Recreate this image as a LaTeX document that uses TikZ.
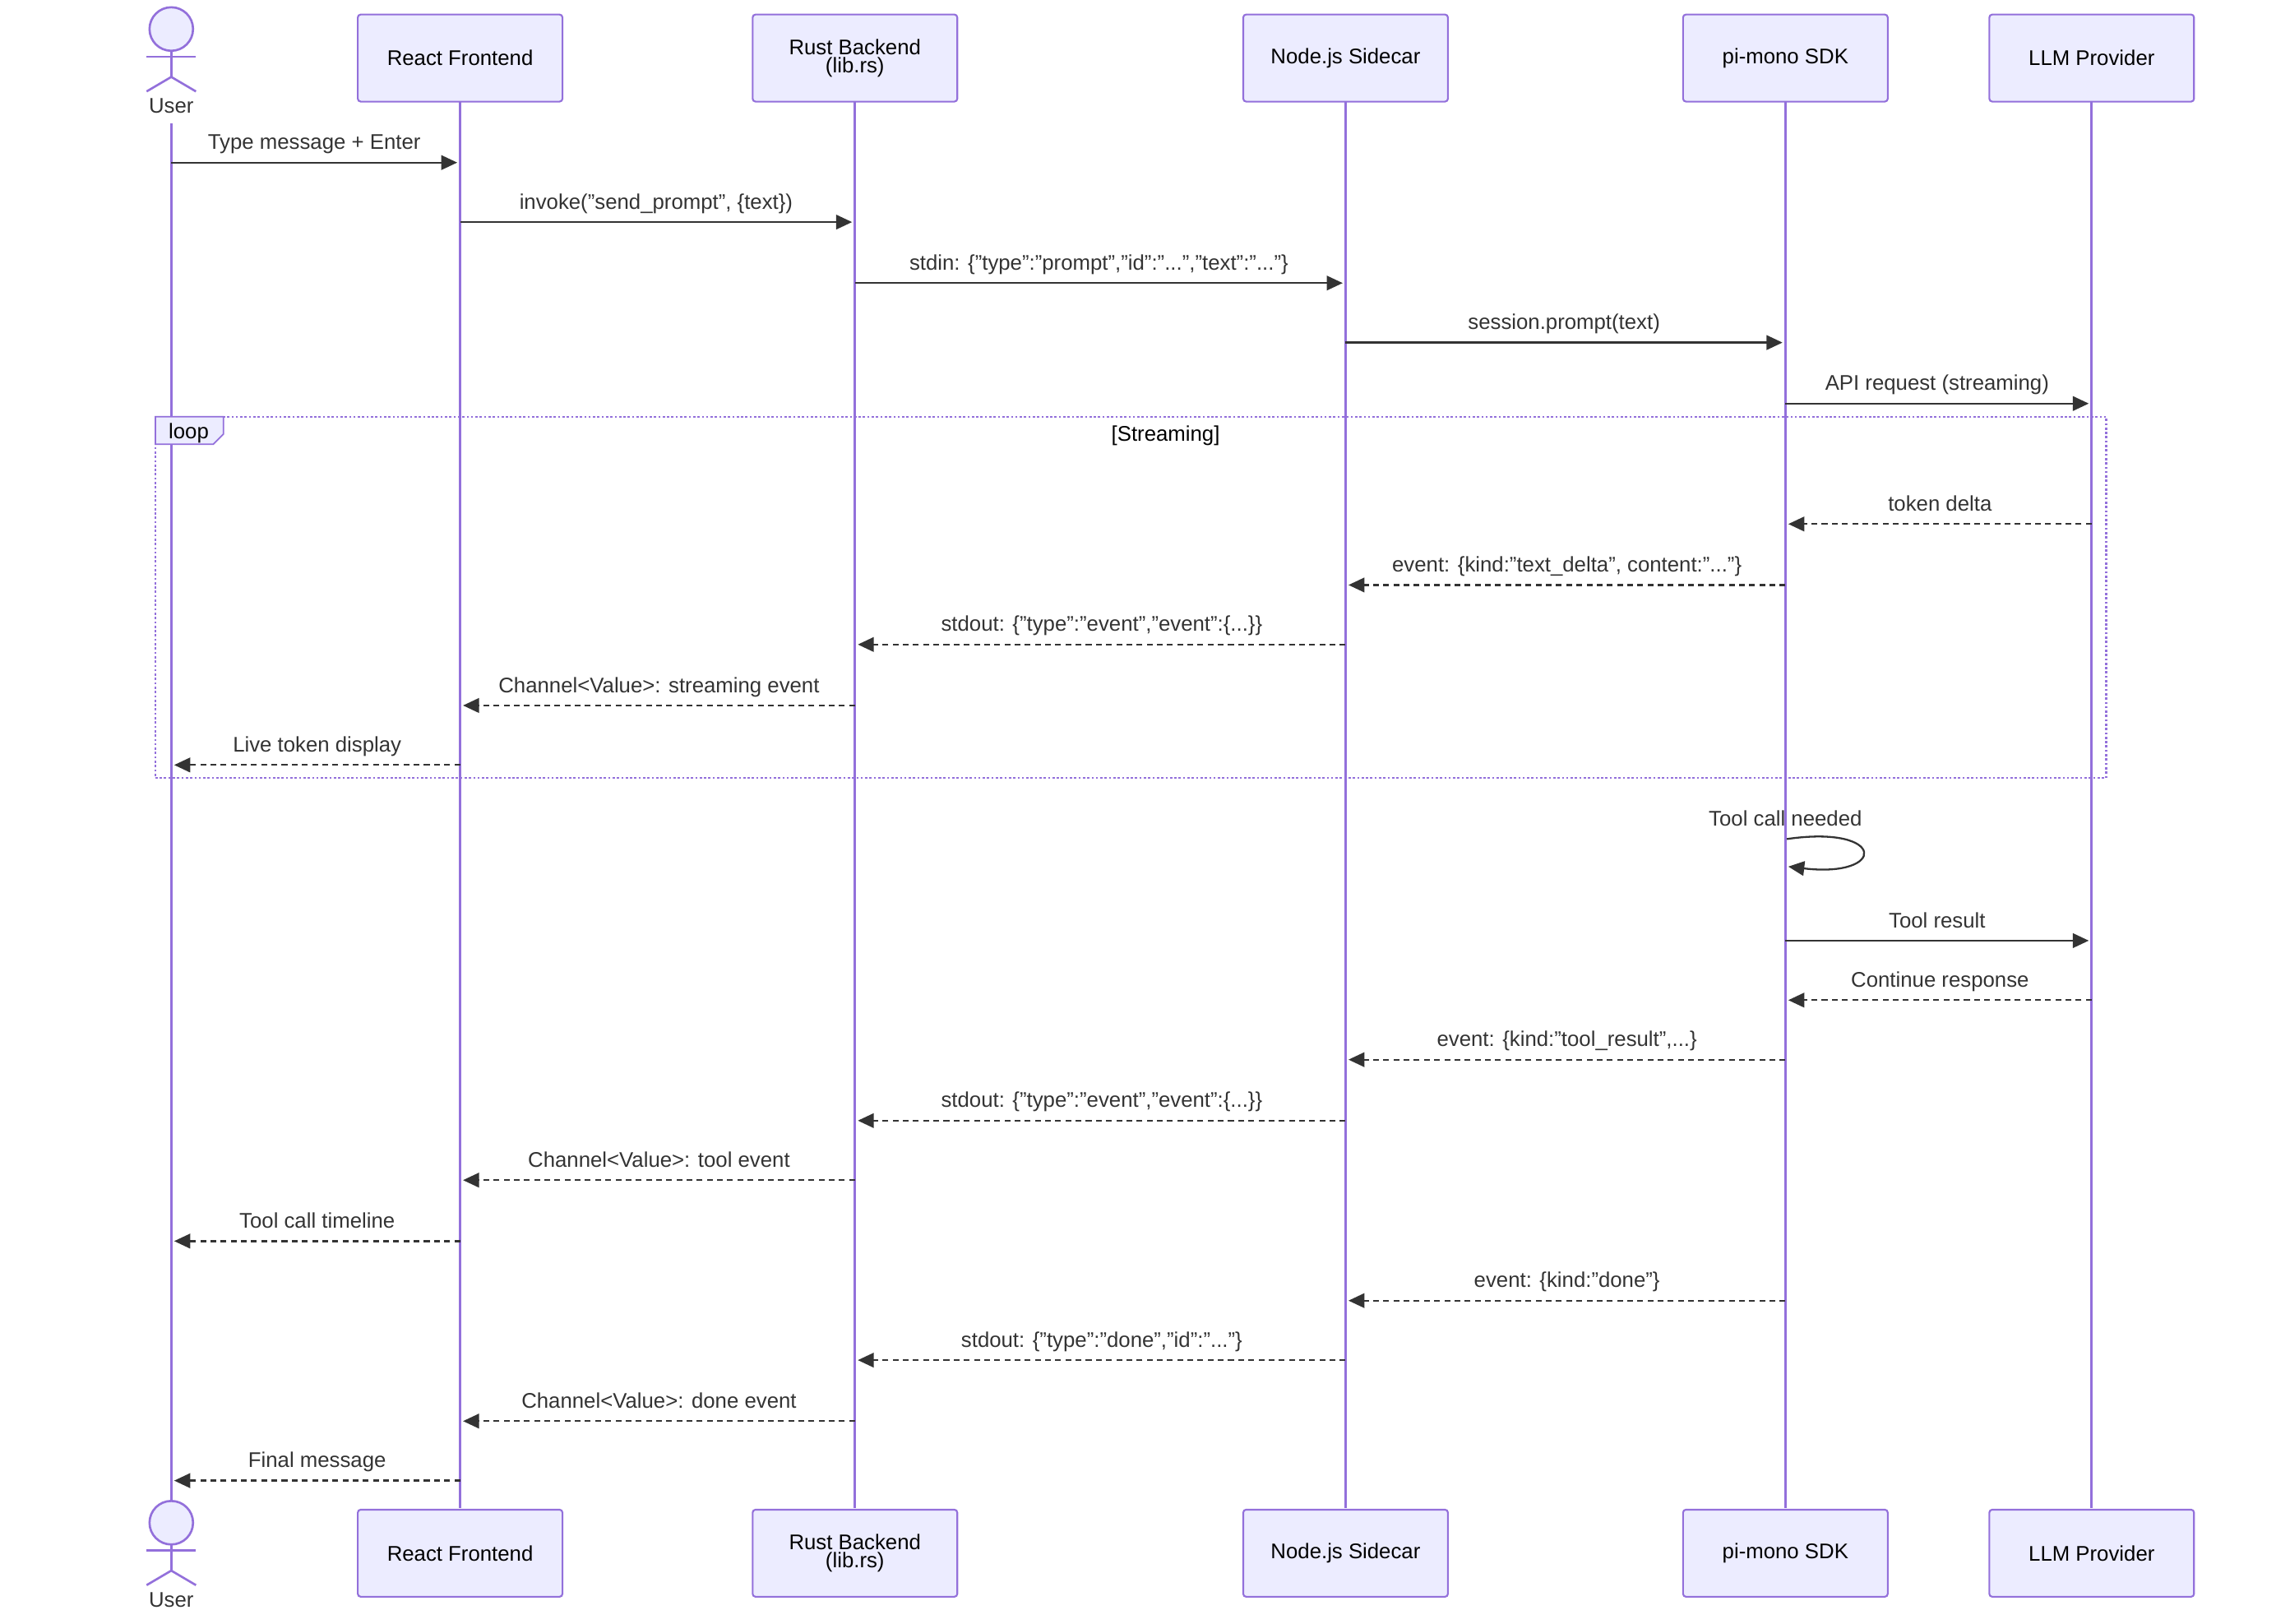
\documentclass[tikz,border=0pt]{standalone}
\usepackage{fontspec}
\setmainfont{Liberation Sans}
\usetikzlibrary{arrows.meta}
\definecolor{pur}{HTML}{9370DB}
\definecolor{fillc}{HTML}{ECECFF}
\definecolor{txt}{HTML}{333333}
\begin{document}
\begin{tikzpicture}[x=1pt,y=-1pt,
  box/.style={draw=pur,fill=fillc,line width=1.2pt,rounded corners=2pt,minimum width=141pt,minimum height=60pt,align=center,font=\fontsize{14.6}{14.6}\selectfont,inner sep=0pt},
  life/.style={draw=pur,line width=1.6pt},
  msg/.style={draw=txt,line width=1.3pt,-{Triangle[length=11pt,width=10pt]}},
  rmsg/.style={msg,dash pattern=on 4pt off 3pt},
  lab/.style={font=\fontsize{14.6}{14.6}\selectfont,text=txt,anchor=base,inner sep=0pt},
  act/.style={draw=pur,line width=1.5pt}]
\useasboundingbox (0,0) rectangle (1568,1118.5);
\foreach \n/\x in {U/118,R/317,B/589,N/927,P/1230,L/1441}{
  \coordinate (\n) at (\x,0);
}
\draw[life] (118,85) -- (118,1035);
\foreach \x in {317,589,927,1230,1441}{\draw[life] (\x,70) -- (\x,1039);}
\foreach \y [count=\i] in {40,1070}{
  \node[box] (r\i) at (317,\y) {React Frontend};
  \node[box] (b\i) at (589,\y) {Rust Backend\\[-2pt](lib.rs)};
  \node[box] (n\i) at (927,\y) {Node.js Sidecar};
  \node[box] (p\i) at (1230,\y) {pi-mono SDK};
  \node[box] (l\i) at (1441,\y) {LLM Provider};
}
\foreach \y in {20,1049}{
  \draw[act,fill=fillc] (118,\y) circle (15);
  \draw[act] (118,\y+15) -- (118,\y+33);
  \draw[act] (101,\y+19) -- (135,\y+19);
  \draw[act] (101,\y+43) -- (118,\y+33) -- (135,\y+43);
}
\node[lab] at (118,78) {User};
\node[lab] at (118,1107) {User};
\draw[pur,line width=1.2pt,dash pattern=on 1.5pt off 1.5pt] (107,287) rectangle (1451,536);
\draw[pur,line width=1pt,fill=fillc] (107,287) -- (154,287) -- (154,299) -- (147,306) -- (107,306) -- cycle;
\node[lab,text=black] at (130,302) {loop};
\node[lab,text=black] at (803,304) {[Streaming]};
\newcommand{\msgA}[5]{%
  \draw[#1] (#2,#4) -- (#3,#4);
  \node[lab] at ({(#2+#3)/2},#4-9) {#5};
}
\msgA{msg}{118}{315}{112}{Type message + Enter}
\msgA{msg}{317}{587}{153}{invoke("send\_prompt", \{text\})}
\msgA{msg}{589}{925}{195}{stdin: \{"type":"prompt","id":"...","text":"..."\}}
\msgA{msg}{927}{1228}{236}{session.prompt(text)}
\msgA{msg}{1230}{1439}{278}{API request (streaming)}
\msgA{rmsg}{1441}{1232}{361}{token delta}
\msgA{rmsg}{1230}{929}{403}{event: \{kind:"text\_delta", content:"..."\}}
\msgA{rmsg}{927}{591}{444}{stdout: \{"type":"event","event":\{...\}\}}
\msgA{rmsg}{589}{319}{486}{Channel<Value>: streaming event}
\msgA{rmsg}{317}{120}{527}{Live token display}
\node[lab] at (1230,569) {Tool call needed};
\draw[msg] (1231,578) .. controls (1300,568) and (1300,605) .. (1232,597);
\msgA{msg}{1230}{1439}{648}{Tool result}
\msgA{rmsg}{1441}{1232}{689}{Continue response}
\msgA{rmsg}{1230}{929}{730}{event: \{kind:"tool\_result",...\}}
\msgA{rmsg}{927}{591}{772}{stdout: \{"type":"event","event":\{...\}\}}
\msgA{rmsg}{589}{319}{813}{Channel<Value>: tool event}
\msgA{rmsg}{317}{120}{855}{Tool call timeline}
\msgA{rmsg}{1230}{929}{896}{event: \{kind:"done"\}}
\msgA{rmsg}{927}{591}{937}{stdout: \{"type":"done","id":"..."\}}
\msgA{rmsg}{589}{319}{979}{Channel<Value>: done event}
\msgA{rmsg}{317}{120}{1020}{Final message}
\end{tikzpicture}
\end{document}
